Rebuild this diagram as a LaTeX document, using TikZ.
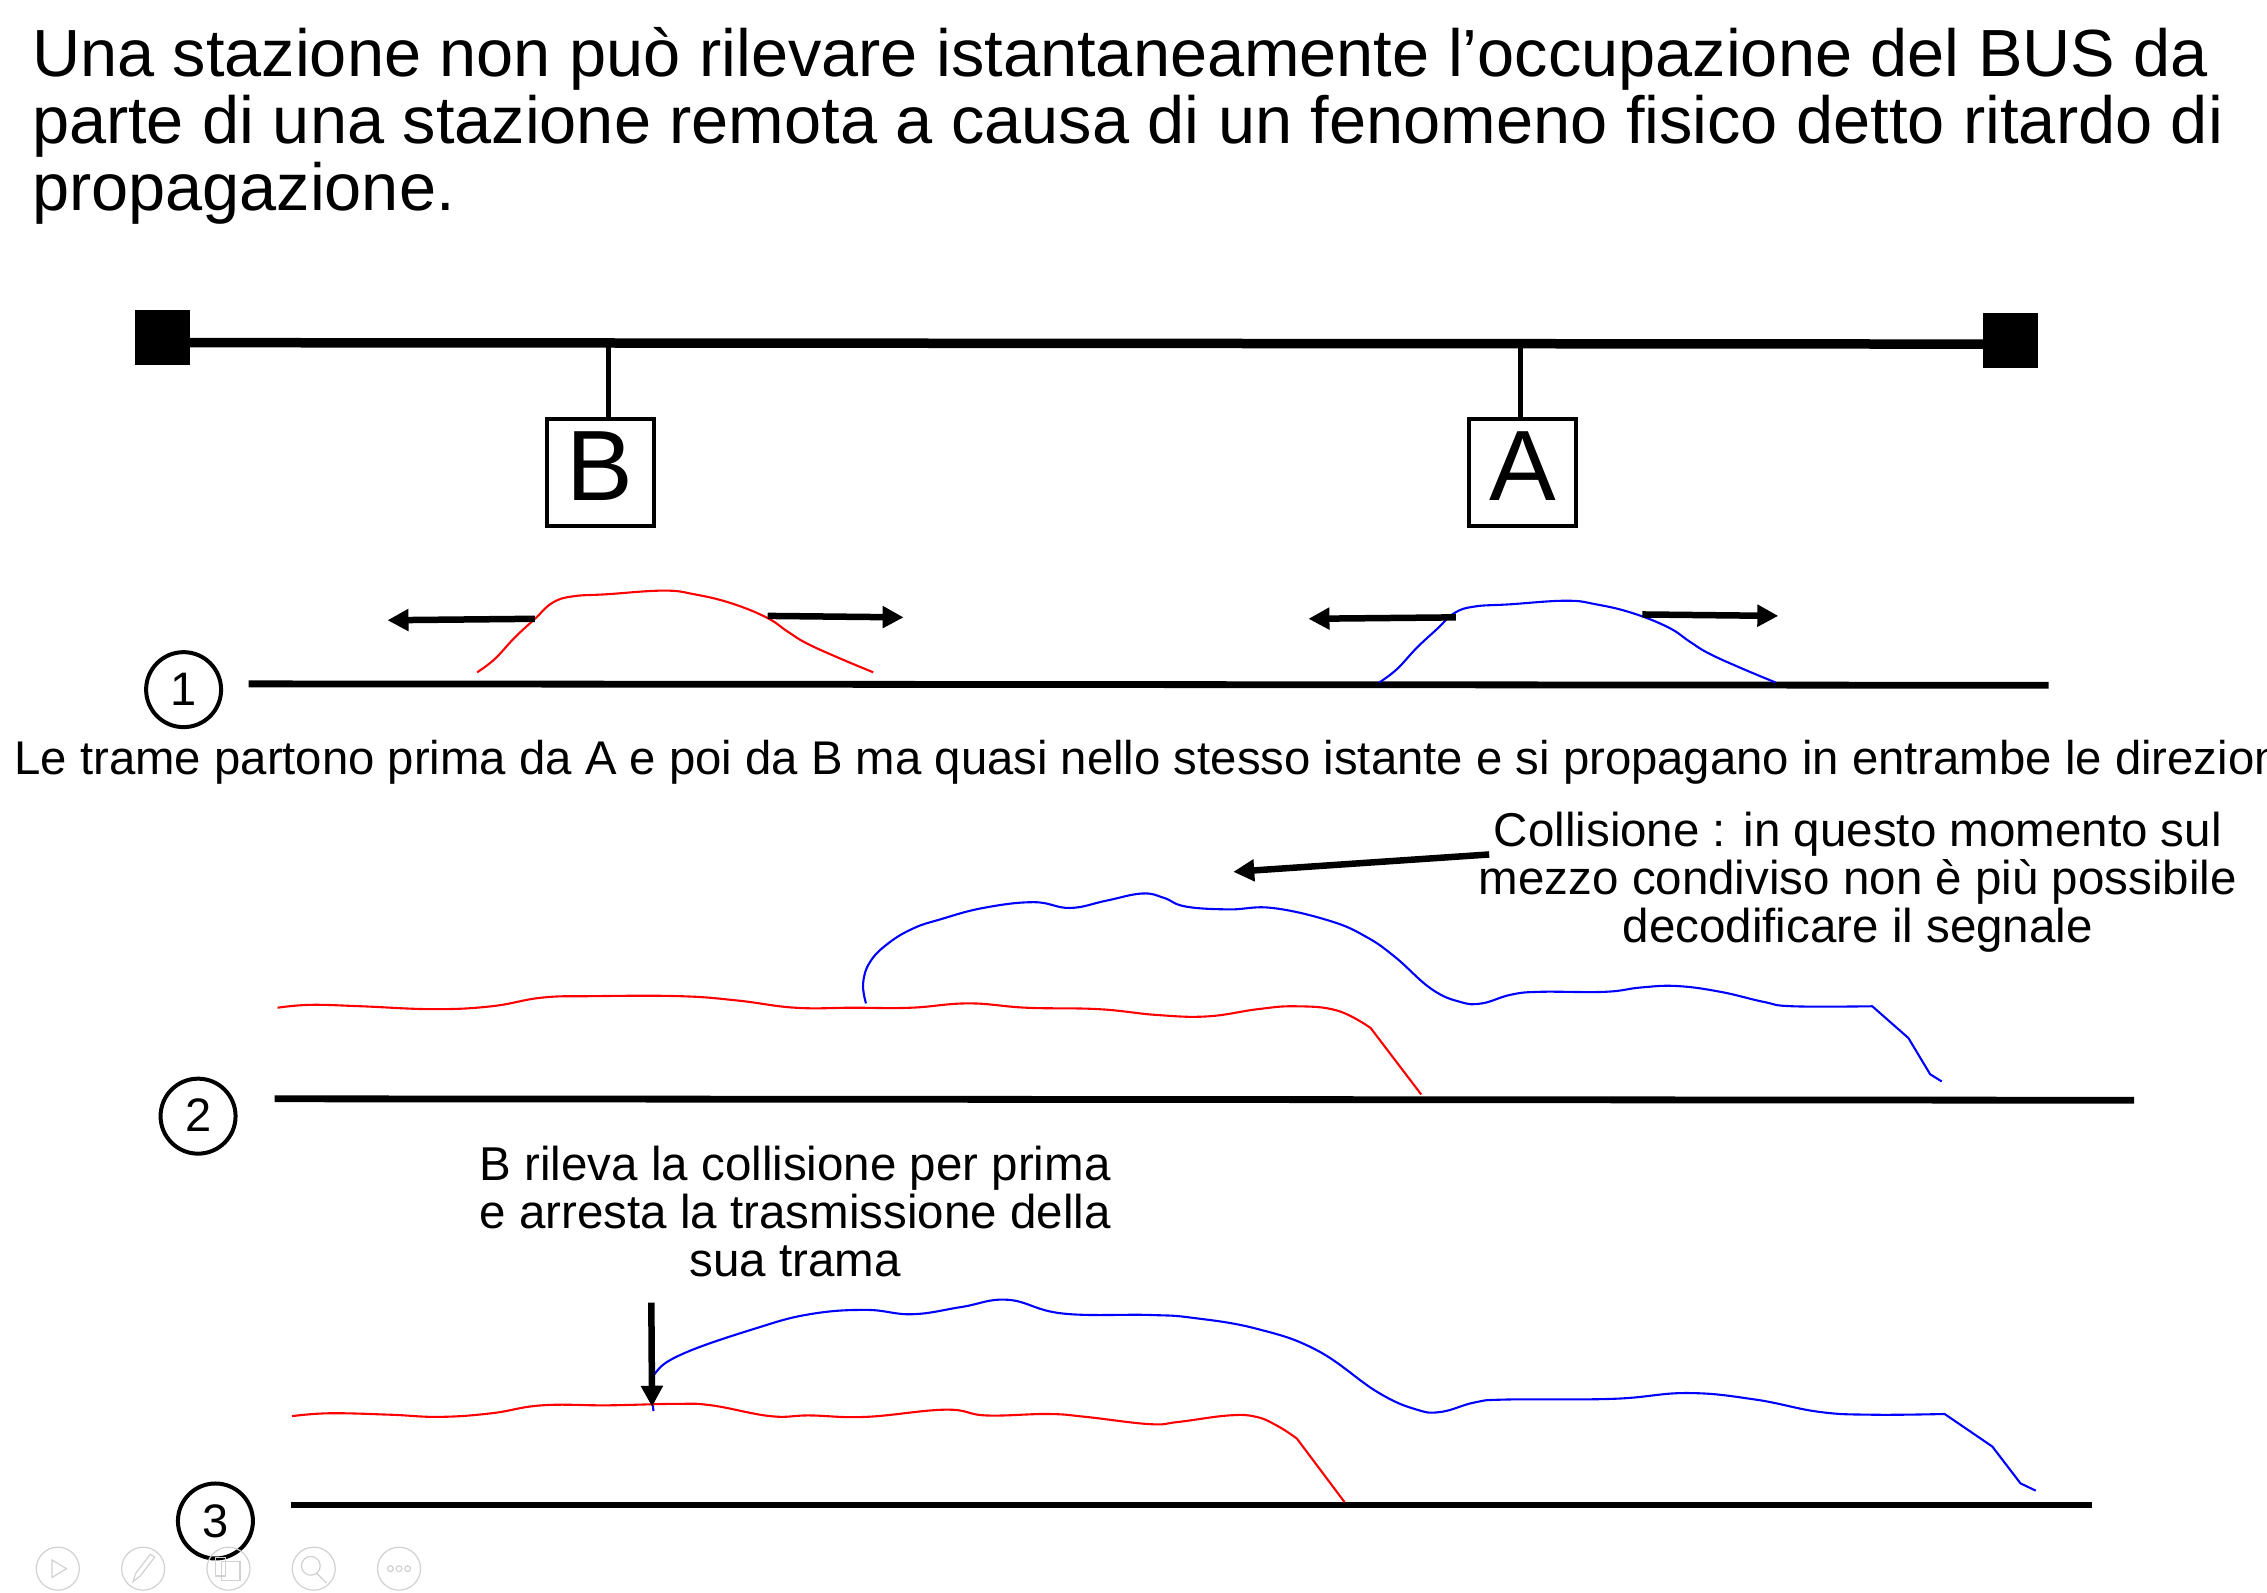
\documentclass[tikz,border=0pt]{standalone}
\usepackage{fontspec}
\setmainfont{Liberation Sans}
\usetikzlibrary{arrows.meta,shapes.geometric}
\tikzset{
  x=1.4458pt,y=-1.4458pt,
  thickbus/.style={line width=9.5pt,black},
  baseline line/.style={line width=6.8pt,black},
  term/.style={fill=black,draw=black,minimum size=54pt,inner sep=0pt,rectangle},
  station/.style={draw=black,line width=4pt,minimum size=107pt,inner sep=0pt,font=\fontsize{100}{100}\selectfont},
  stub/.style={line width=5.5pt,black},
  numcircle/.style={circle,draw=black,line width=4pt,minimum size=75pt,inner sep=0pt,font=\fontsize{47}{47}\selectfont},
  headarrow/.style={line width=6.5pt,black,-{Triangle[length=21pt,width=21pt]}},
  sigred/.style={red,line width=2.1pt,line join=round},
  sigblue/.style={blue,line width=2.1pt,line join=round},
  body/.style={inner sep=0pt,align=center,font=\fontsize{47.5}{48}\selectfont},
  tool/.style={draw=black!18,line width=1.2pt},
}
\begin{document}
\begin{tikzpicture}
\useasboundingbox (0,0) rectangle (1568,1101.8);
\node[inner sep=0pt,anchor=north west,align=left,font=\fontsize{66.7}{67.2}\selectfont] (title) at (22,18.5)
 {Una stazione non può rilevare istantaneamente l’occupazione del BUS da\\parte di una stazione remota a causa di un fenomeno fisico detto ritardo di\\propagazione.};
% bus
\node[term] (tl) at (112,233) {};
\node[term] (tr) at (1390.5,235.5) {};
\coordinate (busl) at (125,237); \coordinate (busr) at (1380,238);
\draw[thickbus] (busl) -- (busr);
\node[station] (B) at (415,326.5) {\raisebox{11.5pt}{B}};
\node[station] (A) at (1053,326.5) {\raisebox{11.5pt}{A}};
\coordinate (bB) at (421,238);
\coordinate (bA) at (1051.5,238);
\draw[stub] (bB) -- (B.north -| bB);
\draw[stub] (bA) -- (A.north -| bA);
% row 1
\node[numcircle] (n1) at (127,477) {\raisebox{1.5pt}{1}};
\coordinate (l1a) at (172,473); \coordinate (l1b) at (1417,474);
\draw[baseline line] (l1a) -- (l1b);
\draw[sigred] plot[smooth,tension=.7] coordinates {(330,465)(342,456)(356,441)(370,428)(382,417)(396,412.5)(420,411)(459,408.5)(480,411)(505,417)(530,427)(545,437)(558,445)(580,455)(604,465)};
\draw[sigblue] plot[smooth,tension=.7] coordinates {(954,472)(966,463)(980,448)(994,435)(1006,424)(1020,419.5)(1044,418)(1083,415.5)(1104,418)(1129,424)(1154,434)(1169,444)(1182,452)(1204,462)(1228,472)};
\coordinate (a1) at (370,428); \coordinate (a2) at (268,429);
\coordinate (a3) at (531,426); \coordinate (a4) at (625,427);
\coordinate (a5) at (1007,427); \coordinate (a6) at (905,428);
\coordinate (a7) at (1136,425); \coordinate (a8) at (1230,426);
\draw[headarrow] (a1) -- (a2);
\draw[headarrow] (a3) -- (a4);
\draw[headarrow] (a5) -- (a6);
\draw[headarrow] (a7) -- (a8);
\node[body,anchor=base west,font=\fontsize{47.3}{48}\selectfont] (t1) at (10,536) {Le trame partono prima da A e poi da B ma quasi nello stesso istante e si propagano in entrambe le direzioni};
% row 2
\node[body] (coll) at (1285,610) {Collisione : in questo momento sul\\mezzo condiviso non è più possibile\\decodificare il segnale};
\coordinate (c1) at (1030,591); \coordinate (c2) at (853,603);
\draw[headarrow] (c1) -- (c2);
\node[numcircle] (n2) at (137,772) {\raisebox{2pt}{2}};
\coordinate (l2a) at (190,760); \coordinate (l2b) at (1476,761);
\draw[baseline line] (l2a) -- (l2b);
\draw[sigblue] plot[smooth,tension=.7] coordinates {(599,694)(597,680)(602,665)(615,652)(632,642)(650,636)(680,628)(715,624)(740,628)(765,623)(790,618)(805,621)(820,627)(850,629)(880,628)(920,637)(945,648)(965,662)(990,684)(1010,693)(1025,694)(1045,688)(1065,686)(1110,686)(1135,683)(1160,682)(1190,686)(1220,693)(1240,696)(1295,696)} -- (1320,718) -- (1335,743) -- (1343,748);
\draw[sigred] plot[smooth,tension=.7] coordinates {(192,697)(215,695)(250,696)(300,698)(340,696)(375,690)(410,689)(470,689)(510,692)(550,697)(590,697)(630,697)(670,694)(710,697)(760,698)(800,702)(835,703)(870,698)(896,696)(925,699)(948,711)} -- (983,757);
% row 3
\node[body] (brl) at (550,838) {B rileva la collisione per prima\\e arresta la trasmissione della\\sua trama};
\node[numcircle] (n3) at (149,1052) {3};
\coordinate (l3a) at (201,1041); \coordinate (l3b) at (1447,1041);
\draw[baseline line] (l3a) -- (l3b);
\draw[sigblue] plot[smooth,tension=.7] coordinates {(452,976)(451,962)(453,950)(472,936.5)(522,919)(560,909)(599,906)(631,909)(665,904)(697,899)(735,908.5)(795,909.5)(825,911.5)(869,919)(911,934)(953,963)(980,975)(997,976.5)(1020,970)(1042,968)(1116,967.5)(1167,963.5)(1214,968)(1258,976.5)(1295,978.5)(1345,978)} -- (1378,1000.5) -- (1397.5,1026) -- (1408,1031);
\draw[sigred] plot[smooth,tension=.7] coordinates {(202,979.5)(228,977.5)(270,978.5)(304,980)(340,977.5)(375,972)(421,972)(467,971)(492,972)(533,979.5)(560,979)(599,980)(654,975)(682,979)(725,978)(751,980)(795,985)(815,983.5)(850,979)(869,980)(884,986.5)(897,995)} -- (930,1039);
\coordinate (v1) at (450.5,901); \coordinate (v2) at (451,973);
\draw[headarrow] (v1) -- (v2);
% slide-show toolbar
\foreach \cx/\nm in {40/ta,99/tb,158/tc,217/td,276/te}
  \node[tool,circle,minimum size=43pt,inner sep=0pt] (\nm) at (\cx,1085) {};
\draw[tool] (36,1079) -- (46,1085) -- (36,1091) -- cycle;
\draw[tool] (92,1094) -- (94,1088) -- (104,1075) -- (107,1077) -- (97,1090) -- cycle;
\draw[tool] (153,1080) rectangle (166,1093);
\draw[tool] (149,1077) rectangle (156,1090);
\draw[tool] (215,1083) circle[radius=6.5];
\draw[tool] (219,1088) -- (226,1095);
\foreach \dx in {-6,0,6} \draw[tool] (276+\dx,1085) circle[radius=2];
\end{tikzpicture}
\end{document}
